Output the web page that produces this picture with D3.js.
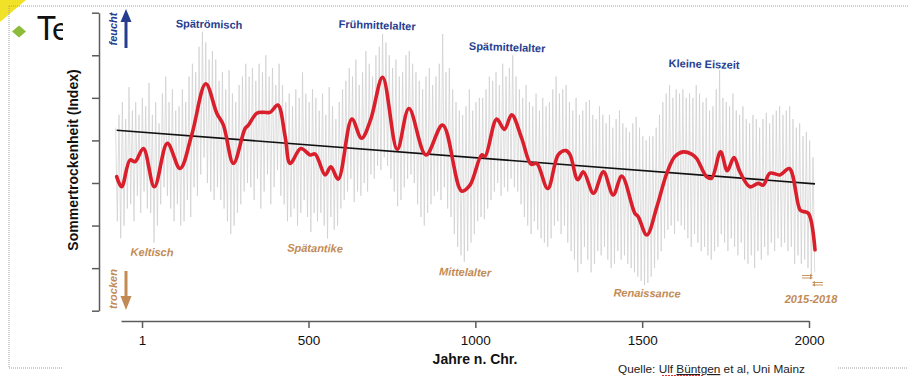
<!DOCTYPE html>
<html>
<head>
<meta charset="utf-8">
<script src="https://cdn.jsdelivr.net/npm/d3@7"></script>
<style>
  body { margin: 0; background: #fff; }
  svg { display: block; font-family: 'Liberation Sans', Arial, Helvetica, sans-serif; }
</style>
</head>
<body>
<svg id="chart"></svg>
<script>
// smoothed drought index (red line)
const redYears = [-75, -60, -35, -20, 5, 38, 77, 115, 150, 192, 225, 245, 275, 310, 320, 345, 365, 385, 408, 430,
  445, 477, 505, 520, 550, 567, 589, 630, 659, 686, 722, 766, 801, 852, 902, 959, 984, 1019, 1029, 1064,
  1087, 1109, 1139, 1167, 1184, 1217, 1249, 1272, 1284, 1307, 1324, 1354, 1384, 1413, 1439, 1478, 1488, 1514, 1544, 1574,
  1598, 1623, 1648, 1663, 1693, 1708, 1735, 1755, 1775, 1793, 1823, 1848, 1863, 1883, 1913, 1941, 1973, 1983, 1998, 2018]
const redValues = [-0.85, -1.09, -0.46, -0.50, -0.19, -1.09, -0.07, -0.66, 0.13, 1.33, 0.64, 0.36, -0.54, 0.28, 0.36, 0.64, 0.66, 0.66, 0.83, 0.09,
  -0.54, -0.19, -0.34, -0.32, -0.81, -0.62, -0.91, 0.50, 0.05, 0.48, 1.48, -0.21, 0.75, -0.34, 0.36, -1.19, -1.05, -0.34, -0.38, 0.50,
  0.26, 0.60, 0.05, -0.56, -0.54, -1.13, -0.33, -0.24, -0.34, -0.92, -0.74, -1.24, -0.74, -1.28, -0.84, -1.71, -1.79, -2.22, -1.56, -0.77,
  -0.38, -0.27, -0.32, -0.42, -0.85, -0.89, -0.27, -0.71, -0.40, -0.74, -1.09, -1.01, -1.05, -0.77, -0.81, -0.66, -1.63, -1.67, -1.71, -2.57]

// linear trend (black line)
const trendYears = [-75, 2018]
const trendValues = [0.24, -1.02]

// annual values, read as high / low spike per decade (grey)
const greyDecades = d3.range(-80, 2011, 10)
const greyHigh = [
  0.3, 0.6, 0.9, 0.5, 1.25, 0.7, 0.9, 0.6, 1.0, 0.8,
  1.35, 0.6, 0.9, 0.4, 1.1, 1.5, 0.9, 1.2, 0.7, 0.8,
  1.2, 0.9, 1.5, 1.8, 1.6, 2.2, 2.55, 2.3, 1.9, 2.1,
  1.9, 1.4, 1.6, 1.2, 1.65, 1.1, 0.9, 1.3, 1.5, 1.8,
  1.5, 1.7, 1.4, 1.8, 1.6, 2.0, 1.5, 1.7, 1.3, 1.8,
  1.3, 0.9, 1.1, 0.8, 1.2, 1.0, 1.6, 1.1, 0.9, 1.2,
  1.0, 0.7, 1.1, 0.6, 1.25, 0.8, 0.5, 0.9, 1.2, 1.4,
  1.7, 1.5, 1.9, 1.3, 1.6, 2.1, 1.8, 1.5, 2.0, 2.2,
  2.5, 2.3, 2.0, 1.7, 1.9, 1.5, 1.6, 2.0, 2.1, 1.8,
  1.6, 1.4, 1.2, 1.5, 1.7, 1.3, 1.5, 1.8, 2.5, 1.6,
  1.7, 1.2, 0.9, 0.7, 0.6, 0.8, 1.2, 0.7, 0.9, 1.0,
  1.0, 1.2, 1.5, 1.4, 1.6, 1.3, 1.8, 1.5, 1.7, 2.0,
  1.5, 1.2, 1.0, 1.3, 0.9, 0.8, 1.1, 0.7, 1.0, 0.8,
  0.9, 1.2, 1.5, 1.1, 1.2, 1.3, 0.9, 0.7, 1.0, 0.6,
  0.7, 0.9, 0.95, 0.6, 0.5, 0.8, 0.6, 0.4, 0.6, 0.3,
  0.5, 0.7, 0.4, 0.3, 0.2, 0.4, 0.55, 0.3, 0.1, 0.0,
  0.1, 0.1, 0.3, 0.6, 0.9, 1.1, 1.3, 1.0, 1.2, 1.1,
  1.2, 1.0, 1.1, 1.0, 1.3, 1.1, 0.9, 1.0, 0.7, 0.8,
  1.2, 1.65, 1.0, 0.9, 0.8, 1.1, 0.7, 0.6, 0.8, 0.5,
  0.4, 0.6, 0.5, 0.3, 0.5, 0.65, 0.4, 0.6, 0.7, 0.8,
  0.6, 0.7, 0.8, 0.5, 0.3, 0.4, 0.1, 0.2, 0.0, -0.4
]
const greyLow = [
  -1.9, -2.3, -2.0, -1.6, -1.5, -1.9, -1.3, -1.7, -1.2, -1.6,
  -1.7, -2.4, -2.0, -1.5, -1.1, -1.3, -1.6, -1.9, -1.5, -2.0,
  -1.9, -1.4, -1.8, -1.1, -1.3, -0.8, -0.4, -1.0, -1.2, -1.4,
  -1.1, -1.4, -1.6, -1.9, -2.2, -2.0, -1.7, -1.5, -1.2, -1.0,
  -1.1, -1.4, -0.9, -1.6, -1.2, -0.8, -1.5, -1.1, -0.7, -1.3,
  -1.5, -1.9, -1.8, -1.6, -2.0, -1.7, -1.4, -1.8, -2.15, -1.7,
  -1.9, -1.7, -2.0, -2.3, -1.8, -2.1, -2.0, -1.6, -1.4, -1.2,
  -0.9, -1.45, -1.2, -1.3, -1.0, -1.2, -0.8, -0.9, -0.6, -0.7,
  -0.4, -0.6, -0.9, -1.2, -1.55, -1.4, -1.1, -0.9, -0.8, -1.0,
  -1.5, -1.8, -2.0, -1.7, -1.5, -1.3, -1.2, -1.4, -1.1, -1.6,
  -1.8, -2.2, -2.5, -2.7, -2.85, -2.6, -2.4, -2.2, -1.9, -1.8,
  -1.85, -1.6, -1.4, -1.2, -1.0, -1.3, -1.1, -1.2, -0.9, -1.1,
  -1.2, -1.5, -1.8, -2.0, -2.2, -1.9, -2.1, -2.3, -2.4, -2.5,
  -2.3, -2.0, -1.9, -2.2, -2.0, -2.4, -2.6, -2.8, -3.1, -2.9,
  -2.5, -2.8, -3.1, -2.9, -2.6, -2.7, -2.5, -2.8, -3.0, -2.9,
  -2.6, -2.8, -2.7, -2.9, -3.0, -3.1, -3.2, -3.3, -3.4, -3.35,
  -3.2, -3.0, -2.8, -2.6, -2.3, -2.1, -2.0, -2.2, -1.9, -2.0,
  -2.1, -2.3, -2.5, -2.2, -2.4, -2.6, -2.5, -2.7, -2.8, -2.6,
  -2.5, -2.2, -2.4, -2.6, -2.3, -2.5, -2.7, -2.4, -2.8, -2.9,
  -2.7, -3.0, -2.6, -2.8, -2.5, -2.7, -2.4, -2.6, -2.3, -2.5,
  -2.4, -2.6, -2.5, -2.9, -2.7, -2.9, -2.8, -3.0, -3.2, -3.1
]

const xTicks = [1, 500, 1000, 1500, 2000]
const yTicks = [-4, -3, -2, -1, 0, 1, 2, 3]

const wetPeriods = ['Spätrömisch', 'Frühmittelalter', 'Spätmittelalter', 'Kleine Eiszeit']
const dryPeriods = ['Keltisch', 'Spätantike', 'Mittelalter', 'Renaissance', '2015-2018']

const width = 908
const height = 376
const blue = '#263d8f'
const brown = '#c28b55'

const svg = d3.select('#chart')
  .attr('width', width)
  .attr('height', height)

// slide decoration behind the picture
svg.append('path').attr('d', 'M0,0H26L0,22Z').attr('fill', '#f1e227')
svg.append('path').attr('d', 'M12,31.5L19,25.5L26,31.5L19,37.5Z').attr('fill', '#8dbb3a')
svg.append('text')
  .attr('x', 37).attr('y', 40)
  .style('font-family', 'Lato, "Open Sans", sans-serif')
  .style('font-size', '32px')
  .attr('fill', '#111')
  .text('Temperatur')

const dotted = [[9, 6, 908, 6], [9, 6, 9, 368], [9, 368, 62, 368], [838, 368, 908, 368]]
svg.selectAll('.frame').data(dotted).enter().append('line')
  .attr('x1', d => d[0]).attr('y1', d => d[1]).attr('x2', d => d[2]).attr('y2', d => d[3])
  .attr('stroke', '#a0a0a0').attr('stroke-width', 1).attr('stroke-dasharray', '1,1')

svg.append('rect')
  .attr('x', 63).attr('y', 9).attr('width', 775).attr('height', 358)
  .attr('fill', '#fff')

const x = d3.scaleLinear().domain([-62, 2000]).range([121, 809])
const y = d3.scaleLinear().domain([-4, 3]).range([310.7, 12.7])

const g = svg.append('g')

// grey annual series
const greyPoints = []
greyDecades.forEach((yr, i) => {
  greyPoints.push([yr + 2, greyHigh[i]])
  greyPoints.push([yr + 7, greyLow[i]])
})
g.append('path')
  .datum(greyPoints)
  .attr('fill', 'none')
  .attr('stroke', '#cacaca')
  .attr('stroke-width', 0.65)
  .attr('d', d3.line().x(d => x(d[0])).y(d => y(d[1])))

// trend
g.append('path')
  .datum(trendYears.map((yr, i) => [yr, trendValues[i]]))
  .attr('fill', 'none')
  .attr('stroke', '#111')
  .attr('stroke-width', 1.6)
  .attr('d', d3.line().x(d => x(d[0])).y(d => y(d[1])))

// smoothed series
g.append('path')
  .datum(redYears.map((yr, i) => [yr, redValues[i]]))
  .attr('fill', 'none')
  .attr('stroke', '#d91f2b')
  .attr('stroke-width', 3.6)
  .attr('stroke-linejoin', 'round')
  .attr('stroke-linecap', 'round')
  .attr('d', d3.line().x(d => x(d[0])).y(d => y(d[1])).curve(d3.curveCatmullRom.alpha(0.5)))

// axes
const xAxis = d3.axisBottom(x).tickValues(xTicks).tickFormat(d3.format('d'))
  .tickSizeInner(7).tickSizeOuter(0).tickPadding(7)
const gx = svg.append('g').attr('transform', 'translate(0,321)').call(xAxis)
gx.selectAll('text').style('font-size', '13.5px').attr('fill', '#111')

const yAxis = d3.axisLeft(y).tickValues(yTicks).tickFormat('').tickSizeInner(7).tickSizeOuter(0)
svg.append('g').attr('transform', 'translate(99,0)').call(yAxis)

svg.selectAll('.domain, .tick line').attr('stroke', '#5c5c5c').attr('stroke-width', 1.5)

svg.append('text')
  .attr('x', 475).attr('y', 364)
  .attr('text-anchor', 'middle')
  .style('font-size', '14px').style('font-weight', 'bold')
  .attr('fill', '#111')
  .text('Jahre n. Chr.')

svg.append('text')
  .attr('transform', 'translate(78,160) rotate(-90)')
  .attr('text-anchor', 'middle')
  .style('font-size', '14px').style('font-weight', 'bold')
  .attr('fill', '#111')
  .text('Sommertrockenheit (Index)')

// feucht / trocken markers
svg.append('text')
  .attr('transform', 'translate(117,29) rotate(-90)')
  .attr('text-anchor', 'middle')
  .style('font-size', '11px').style('font-style', 'italic').style('font-weight', 'bold')
  .attr('fill', blue)
  .text('feucht')
svg.append('line').attr('x1', 126).attr('x2', 126).attr('y1', 48).attr('y2', 20)
  .attr('stroke', blue).attr('stroke-width', 3)
svg.append('path').attr('d', 'M120.5,22L131.5,22L126,9Z').attr('fill', blue)

svg.append('text')
  .attr('transform', 'translate(117,289) rotate(-90)')
  .attr('text-anchor', 'middle')
  .style('font-size', '11px').style('font-style', 'italic').style('font-weight', 'bold')
  .attr('fill', brown)
  .text('trocken')
svg.append('line').attr('x1', 126).attr('x2', 126).attr('y1', 271).attr('y2', 298)
  .attr('stroke', brown).attr('stroke-width', 3)
svg.append('path').attr('d', 'M120.5,296L131.5,296L126,310Z').attr('fill', brown)

// period annotations
const wetPos = [[209, 28, 1.5], [377, 29, 2], [507, 51, 2], [704, 68, 1.5]]
wetPeriods.forEach((name, i) => {
  const p = wetPos[i]
  svg.append('text')
    .attr('transform', `translate(${p[0]},${p[1]}) rotate(${p[2]})`)
    .attr('text-anchor', 'middle')
    .style('font-size', '11px').style('font-weight', 'bold')
    .attr('fill', blue)
    .text(name)
})

const dryPos = [[152, 256, 0.5], [315, 252, 1], [465, 276, 1.5], [647, 297, 1], [811, 303, 0]]
dryPeriods.forEach((name, i) => {
  const p = dryPos[i]
  svg.append('text')
    .attr('transform', `translate(${p[0]},${p[1]}) rotate(${p[2]})`)
    .attr('text-anchor', 'middle')
    .style('font-size', '11px').style('font-weight', 'bold').style('font-style', 'italic')
    .attr('fill', brown)
    .text(name)
})

// little arrows beside 2015-2018
const smallArrows = [[802, 811, 275.5], [802, 811, 278], [823, 814, 282.5], [823, 814, 285]]
smallArrows.forEach(a => {
  const dir = Math.sign(a[1] - a[0])
  svg.append('line').attr('x1', a[0]).attr('x2', a[1]).attr('y1', a[2]).attr('y2', a[2])
    .attr('stroke', brown).attr('stroke-width', 0.9)
  svg.append('path')
    .attr('d', `M${a[1] + dir * 2},${a[2]}L${a[1] - dir},${a[2] - 1.5}L${a[1] - dir},${a[2] + 1.5}Z`)
    .attr('fill', brown)
})

// source line
const src = svg.append('text')
  .attr('x', 618).attr('y', 373)
  .style('font-size', '11.8px')
  .attr('fill', '#222')
src.append('tspan').text('Quelle:  Ulf ')
src.append('tspan').style('text-decoration', 'underline').text('Büntgen')
src.append('tspan').text('  et al, Uni Mainz')
svg.append('line').attr('x1', 662).attr('x2', 704).attr('y1', 375.5).attr('y2', 375.5)
  .attr('stroke', '#e03030').attr('stroke-width', 1).attr('stroke-dasharray', '2,1')
</script>
</body>
</html>
